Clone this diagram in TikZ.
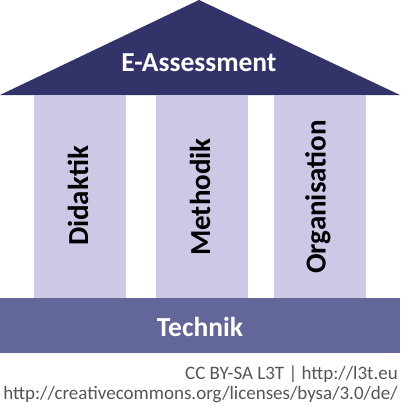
\documentclass[tikz,border=0pt]{standalone}
\usepackage{fontspec}
\setmainfont{Carlito}
\definecolor{roofc}{HTML}{33336A}
\definecolor{pillarc}{HTML}{CCC9E6}
\definecolor{basec}{HTML}{636699}
\definecolor{footc}{HTML}{555555}
\begin{document}
\begin{tikzpicture}[x=1pt,y=-1pt,
  pillar/.style={fill=pillarc,draw=none},
  ptext/.style={rotate=90,font=\fontsize{29}{32}\selectfont\bfseries,text=black},
  wtext/.style={font=\fontsize{27.5}{30}\selectfont\bfseries,text=white},
  foot/.style={font=\fontsize{19}{22}\selectfont,text=footc,anchor=east,inner sep=0pt}]
\useasboundingbox (0,0) rectangle (400,415);
\fill[roofc] (0,95) -- (199,0) -- (400,95) -- cycle;
\fill[pillarc] (34,95) rectangle (126,298);
\fill[pillarc] (156,95) rectangle (248,298);
\fill[pillarc] (274,95) rectangle (366,298);
\fill[basec] (0,298) rectangle (400,353);
\node[wtext] (roof) at (199,63) {E-Assessment};
\node[ptext] (p1) at (78,196) {Didaktik};
\node[ptext] (p2) at (200,197) {Methodik};
\node[ptext] (p3) at (318,197) {Organisation};
\node[wtext] (base) at (200,327) {Technik};
\node[foot] (f1) at (398,374) {CC BY-SA L3T | http://l3t.eu};
\node[foot] (f2) at (398,395) {http://creativecommons.org/licenses/bysa/3.0/de/};
\end{tikzpicture}
\end{document}
